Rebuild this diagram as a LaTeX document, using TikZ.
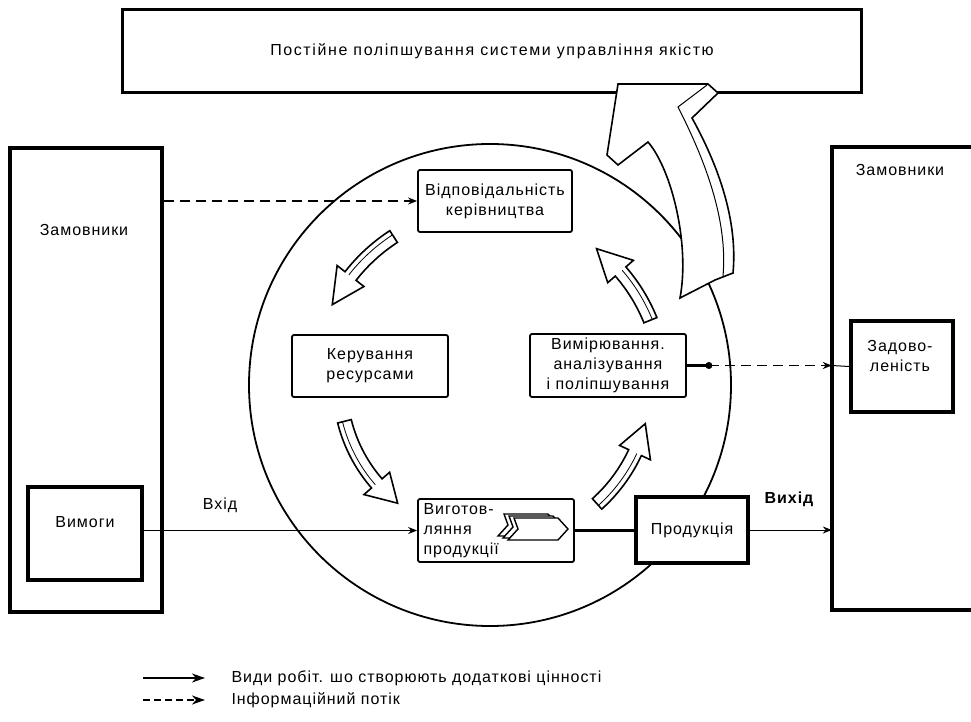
\documentclass[tikz,border=0pt]{standalone}
\usepackage{fontspec}
\setmainfont{Liberation Sans}[LetterSpace=6]
\usetikzlibrary{arrows.meta}

\newcommand{\cyclearrow}[3]{%
  \pgfmathsetmacro\caBase{#2-11*sign(#2-#1)}
  \pgfmathsetmacro\caIn{#3-7}
  \pgfmathsetmacro\caOut{#3+7}
  \pgfmathsetmacro\caHin{#3-17}
  \pgfmathsetmacro\caHout{#3+17}
  \pgfmathsetmacro\caMid{#3+2}
  \filldraw[fill=white, line width=1.6pt]
    (#1:\caIn) arc[start angle=#1, end angle=\caBase, radius=\caIn]
    -- (\caBase:\caHin) -- (#2:#3) -- (\caBase:\caHout) -- (\caBase:\caOut)
    arc[start angle=\caBase, end angle=#1, radius=\caOut] -- cycle;
  \draw[line width=0.8pt]
    (#1:\caMid) arc[start angle=#1, end angle=\caBase, radius=\caMid];
}

\begin{document}
\begin{tikzpicture}[
    x=1pt, y=-1pt,
    every node/.append style = {font=\fontsize{16}{20}\selectfont},
    box/.style = {draw, line width=1.8pt, fill=white, rounded corners=2pt,
      align=center},
    heavybox/.style = {draw, line width=3.5pt, fill=white},
    flow/.style = {-{Stealth[length=9pt, width=7pt]}, line width=1pt},
    info/.style = {flow, dash pattern=on 10pt off 6pt, line width=1.8pt}
  ]
  \useasboundingbox (0,0) rectangle (971,722);

  \node[draw, line width=1.8pt, circle, minimum size=482pt] (loop)
    at (490,385) {};
  \begin{scope}[shift={(490,385)}]
    \cyclearrow{-123}{-153}{177}
    \cyclearrow{-194}{-232}{150}
    \cyclearrow{48}{14}{160}
    \cyclearrow{-22}{-52}{173}
  \end{scope}

  \node[draw, line width=3pt, fill=white, minimum width=739pt,
    minimum height=83pt] (improve) at (492,51)
    {\addfontfeatures{LetterSpace=10}Постійне поліпшування системи управління якістю};
  \filldraw[fill=white, line width=1.6pt]
    (680,298) .. controls (690,245) and (672,170) .. (648,142)
    -- (618,165) -- (607,155) -- (618,84) -- (708,84) -- (718,93)
    -- (692,118) .. controls (718,165) and (738,220) .. (733,273)
    -- (715,280) -- cycle;
  \draw[line width=1pt] (707,85) -- (678,107)
    .. controls (705,160) and (728,220) .. (723,276);

  \node[draw, line width=3.5pt, minimum width=152pt, minimum height=464pt]
    (cust1) at (86,380) {};
  \node (cust1t) at (84,230) {Замовники};
  \node[minimum width=140pt, minimum height=463pt] (cust2) at (902,378.5) {};
  \draw[line width=3.5pt] (cust2.north east) -| (cust2.south west)
    -- (cust2.south east);
  \node (cust2t) at (900,170) {Замовники};

  \node[heavybox, minimum width=114pt, minimum height=93pt] (req)
    at (85,533.5) {};
  \node (reqt) at (85,522) {Вимоги};
  \node[heavybox, minimum width=102pt, minimum height=91pt] (sat)
    at (902,366.5) {};
  \node[align=center] (satt) at (900,356) {Задово-\\леність};

  \node[box, minimum width=154pt, minimum height=62pt] (resp) at (495,201)
    {Відповідальність\\керівництва};
  \node[box, minimum width=156pt, minimum height=62pt] (res) at (370,366)
    {Керування\\ресурсами};
  \node[box, minimum width=156pt, minimum height=63pt] (meas) at (608,365.5)
    {Вимірювання.\\аналізування\\і поліпшування};
  \node[box, minimum width=156pt, minimum height=63pt] (make) at (496,530.5)
    {};
  \node[align=left, anchor=west] (maket) at (420,531)
    {Виготов-\\ляння\\продукції};
  \foreach \d in {10,5,0} {
    \filldraw[fill=white, line width=1.4pt, xshift=-\d pt, yshift=0.4*\d pt]
      (514,518) -- (558,518) -- (568,529) -- (558,540) -- (508,540)
      -- (518,529) -- cycle;
  }
  \node[heavybox, minimum width=112pt, minimum height=66pt] (prod)
    at (692,530) {Продукція};

  \draw[info] (cust1.east |- resp.west) -- (resp.west);
  \draw[line width=2.5pt] (meas.east) -- ++(22,0) coordinate (dot);
  \fill (dot) circle (3.5pt);
  \draw[info] (dot) -- (meas.east -| cust2.west);
  \draw[line width=1pt] (meas.east -| cust2.west) -- (sat.west);
  \draw[flow] (req.east |- make.west) -- (make.west);
  \draw[line width=2.5pt] (make.east) -- (prod.west |- make.east);
  \draw[flow] (prod.east) -- (prod.east -| cust2.west);
  \node (inlab) at (220,505) {Вхід};
  \node[font=\fontsize{16}{20}\selectfont\bfseries] (outlab) at (789,499)
    {Вихід};

  \coordinate (l1a) at (143,678);
  \coordinate (l1b) at (205,678);
  \coordinate (l2a) at (143,700);
  \coordinate (l2b) at (205,700);
  \draw[-{Stealth[length=13pt, width=9pt, inset=4pt]}, line width=1.4pt]
    (l1a) -- (l1b);
  \draw[-{Stealth[length=13pt, width=9pt, inset=4pt]}, line width=1.4pt,
    dash pattern=on 7pt off 4pt] (l2a) -- (l2b);
  \node[anchor=west] (l1t) at (228,678)
    {Види робіт. шо створюють додаткові цінності};
  \node[anchor=west] (l2t) at (228,700) {Інформаційний потік};
\end{tikzpicture}
\end{document}
